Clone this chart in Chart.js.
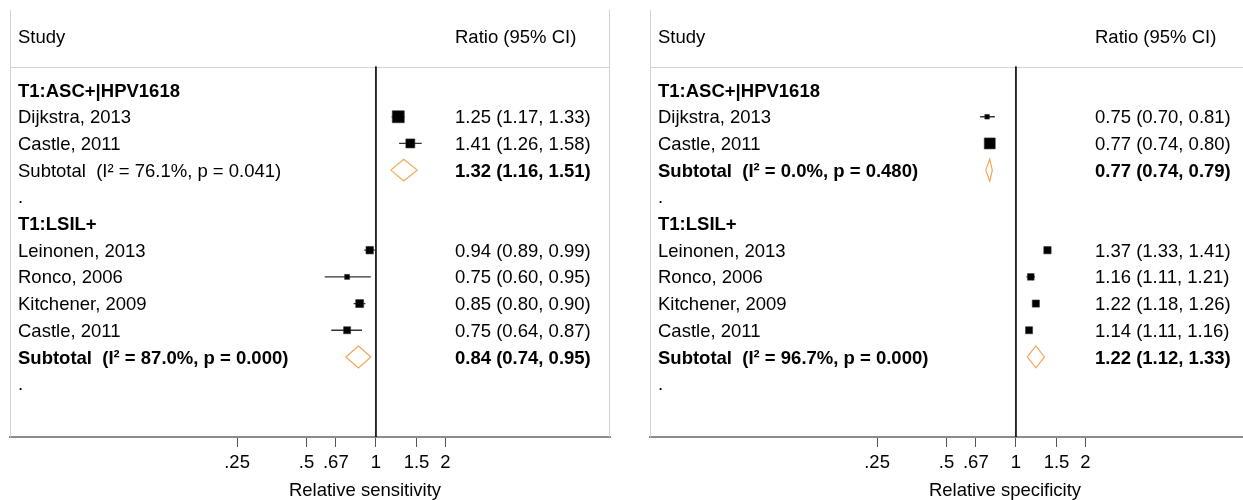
<!DOCTYPE html>
<html>
<head>
<meta charset="utf-8">
<script src="https://cdn.jsdelivr.net/npm/chart.js@4.4.1/dist/chart.umd.min.js"></script>
<style>
  html, body { margin: 0; padding: 0; background: #fff; }
  #wrap { position: relative; width: 1243px; height: 500px; overflow: hidden; }
  .panel { position: absolute; top: 0; width: 640px; height: 500px; }
</style>
</head>
<body>
<div id="wrap">
  <div class="panel" style="left:0"><canvas id="sens" width="640" height="500"></canvas></div>
  <div class="panel" style="left:640px"><canvas id="spec" width="640" height="500"></canvas></div>
</div>
<script>
// studies and subgroups
const groups = ["T1:ASC+|HPV1618", "T1:LSIL+"];
const studies = ["Dijkstra, 2013", "Castle, 2011", "Leinonen, 2013", "Ronco, 2006", "Kitchener, 2009", "Castle, 2011"];
const studyGroup = [0, 0, 1, 1, 1, 1];

// relative sensitivity
const sensRatio = [1.25, 1.41, 0.94, 0.75, 0.85, 0.75];
const sensLower = [1.17, 1.26, 0.89, 0.60, 0.80, 0.64];
const sensUpper = [1.33, 1.58, 0.99, 0.95, 0.90, 0.87];
const sensWeight = [64, 36, 25, 11, 28, 22];
const sensSubRatio = [1.32, 0.84];
const sensSubLower = [1.16, 0.74];
const sensSubUpper = [1.51, 0.95];
const sensHet = ["I² = 76.1%, p = 0.041", "I² = 87.0%, p = 0.000"];

// relative specificity
const specRatio = [0.75, 0.77, 1.37, 1.16, 1.22, 1.14];
const specLower = [0.70, 0.74, 1.33, 1.11, 1.18, 1.11];
const specUpper = [0.81, 0.80, 1.41, 1.21, 1.26, 1.16];
const specWeight = [15, 85, 38, 31, 36, 35];
const specSubRatio = [0.77, 1.22];
const specSubLower = [0.74, 1.12];
const specSubUpper = [0.79, 1.33];
const specHet = ["I² = 0.0%, p = 0.480", "I² = 96.7%, p = 0.000"];

const tickValues = [0.25, 0.5, 0.67, 1, 1.5, 2];
const tickLabels = [".25", ".5", ".67", "1", "1.5", "2"];

const FONT = "'Liberation Sans', Arial, sans-serif";
const SIZE = "18.5px ";
const fmt = (v) => v.toFixed(2);
const ciText = (e, l, u) => `${fmt(e)} (${fmt(l)}, ${fmt(u)})`;

function buildRows(p) {
  const rows = [];
  let r = 2;
  groups.forEach((g, gi) => {
    rows.push({ row: r++, label: g, bold: true });
    studies.forEach((s, i) => {
      if (studyGroup[i] !== gi) return;
      rows.push({ row: r++, label: s, study: i, value: ciText(p.ratio[i], p.lower[i], p.upper[i]) });
    });
    rows.push({
      row: r++,
      label: "Subtotal  (" + p.het[gi] + ")",
      bold: p.subBold[gi],
      sub: gi,
      value: ciText(p.subRatio[gi], p.subLower[gi], p.subUpper[gi]),
      valueBold: true,
    });
    rows.push({ row: r++, label: "." });
  });
  return rows;
}

function makePanel(id, p) {
  const rows = buildRows(p);
  const ciPts = [], boxPts = [], boxR = [], diaPts = [];
  rows.forEach((row) => {
    if (row.study !== undefined) {
      const i = row.study;
      ciPts.push({ x: p.lower[i], y: row.row }, { x: p.upper[i], y: row.row }, { x: null, y: null });
      boxPts.push({ x: p.ratio[i], y: row.row });
      boxR.push((p.boxScale * Math.sqrt(p.weight[i])) / Math.SQRT2);
    }
    if (row.sub !== undefined) {
      const g = row.sub, h = 0.41;
      diaPts.push(
        { x: p.subLower[g], y: row.row },
        { x: p.subRatio[g], y: row.row - h },
        { x: p.subUpper[g], y: row.row },
        { x: p.subRatio[g], y: row.row + h },
        { x: p.subLower[g], y: row.row },
        { x: null, y: null }
      );
    }
  });

  const forest = {
    id: "forest",
    beforeDatasetsDraw(chart) {
      const { ctx, chartArea: a, scales: { y } } = chart;
      const yh = Math.round(y.getPixelForValue(1.12)) + 0.5;
      ctx.save();
      ctx.strokeStyle = "#d3d3d3";
      ctx.lineWidth = 1;
      ctx.beginPath();
      ctx.moveTo(a.left + 0.5, a.top);
      ctx.lineTo(a.left + 0.5, a.bottom);
      ctx.moveTo(a.right - 0.5, a.top);
      ctx.lineTo(a.right - 0.5, a.bottom);
      ctx.moveTo(a.left, yh);
      ctx.lineTo(a.right, yh);
      ctx.stroke();
      ctx.restore();
    },
    afterDraw(chart) {
      const { ctx, chartArea: a, scales: { y } } = chart;
      const ty = (r) => y.getPixelForValue(r) + 1.5;
      ctx.save();
      ctx.fillStyle = "#000";
      ctx.textBaseline = "middle";
      ctx.textAlign = "left";
      const lx = a.left + 8, vx = a.left + 445;
      ctx.font = SIZE + FONT;
      ctx.fillText("Study", lx, ty(0));
      ctx.fillText("Ratio (95% CI)", vx, ty(0));
      rows.forEach((row) => {
        ctx.font = (row.bold ? "bold " : "") + SIZE + FONT;
        ctx.fillText(row.label, lx, ty(row.row));
        if (row.value) {
          ctx.font = (row.valueBold ? "bold " : "") + SIZE + FONT;
          ctx.fillText(row.value, vx, ty(row.row));
        }
      });
      ctx.font = SIZE + FONT;
      ctx.textAlign = "center";
      ctx.fillText(p.title, a.left + 355, 491);
      ctx.restore();
    },
  };

  return new Chart(document.getElementById(id), {
    type: "scatter",
    data: {
      datasets: [
        { data: ciPts, order: 1, showLine: true, spanGaps: false, borderColor: "#333", borderWidth: 1.3, pointRadius: 0 },
        { data: boxPts, order: 0, pointStyle: "rect", pointRadius: boxR, backgroundColor: "#000", borderColor: "#333", borderWidth: 0.6 },
        { data: diaPts, order: 1, showLine: true, spanGaps: false, borderColor: "#f7a457", borderWidth: 1.2, pointRadius: 0, tension: 0 },
        { data: [{ x: 1, y: 1.12 }, { x: 1, y: 15 }], order: 2, showLine: true, borderColor: "#111", borderWidth: 1, pointRadius: 0 },
      ],
    },
    options: {
      responsive: false,
      animation: false,
      layout: { padding: { left: 10, right: 30, top: 10, bottom: 0 } },
      plugins: { legend: { display: false }, tooltip: { enabled: false } },
      scales: {
        x: {
          type: "logarithmic",
          min: 0.0259,
          max: 10.35,
          afterBuildTicks: (s) => { s.ticks = tickValues.map((v) => ({ value: v })); },
          afterFit: (s) => { s.height = 63; },
          ticks: {
            callback: (v, i) => tickLabels[i],
            autoSkip: false,
            maxRotation: 0,
            padding: 5,
            color: "#000",
            font: { family: FONT, size: 18.5 },
          },
          grid: { drawOnChartArea: false, drawTicks: true, tickLength: 10, tickColor: "#555", tickWidth: 1 },
          border: { display: true, color: "#8c8c8c", width: 2 },
        },
        y: { type: "linear", min: -1, max: 15, reverse: true, display: false },
      },
    },
    plugins: [forest],
  });
}

makePanel("sens", {
  ratio: sensRatio, lower: sensLower, upper: sensUpper, weight: sensWeight,
  subRatio: sensSubRatio, subLower: sensSubLower, subUpper: sensSubUpper, het: sensHet,
  subBold: [false, true], boxScale: 1.5, title: "Relative sensitivity",
});
makePanel("spec", {
  ratio: specRatio, lower: specLower, upper: specUpper, weight: specWeight,
  subRatio: specSubRatio, subLower: specSubLower, subUpper: specSubUpper, het: specHet,
  subBold: [true, true], boxScale: 1.19, title: "Relative specificity",
});
</script>
</body>
</html>
